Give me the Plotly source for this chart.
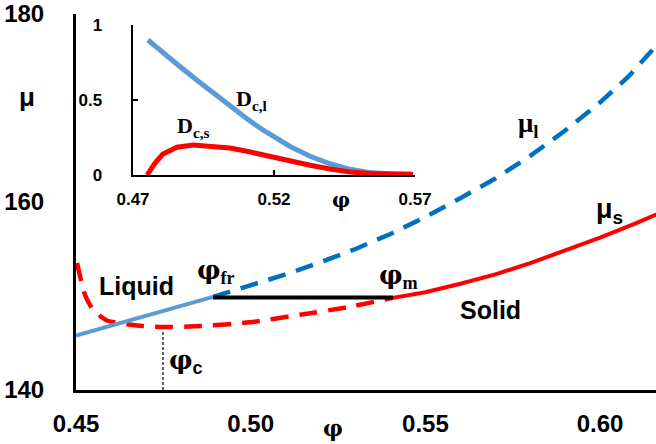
import plotly.graph_objects as go

# ---- main chart data ----
phi_liq = [0.450, 0.470, 0.4892]
mu_liq = [145.8, 147.9, 149.9]

phi_liq_meta = [0.4892, 0.500, 0.510, 0.520, 0.530, 0.540, 0.550, 0.560, 0.570, 0.580, 0.590, 0.600, 0.608, 0.616, 0.620]
mu_liq_meta = [149.9, 151.1, 152.3, 153.6, 155.0, 156.6, 158.4, 160.4, 162.5, 164.9, 167.6, 170.6, 173.3, 176.6, 178.4]

phi_sol_meta = [0.4503, 0.4526, 0.4549, 0.4589, 0.4646, 0.4692, 0.4749, 0.4855, 0.4998, 0.5141, 0.5276, 0.5407]
mu_sol_meta = [153.5, 150.1, 148.5, 147.4, 147.0, 146.8, 146.7, 146.8, 147.2, 148.0, 148.8, 149.8]

phi_sol = [0.5407, 0.550, 0.560, 0.570, 0.580, 0.590, 0.600, 0.610, 0.618, 0.620]
mu_sol = [149.8, 150.4, 151.3, 152.3, 153.5, 154.8, 156.2, 157.7, 159.0, 159.3]

phi_coex = [0.4892, 0.5407]
mu_coex = [149.85, 149.85]

phi_c = 0.4749
mu_c_top = 146.4

x_ticks = [0.45, 0.50, 0.55, 0.60]
y_ticks = [140, 160, 180]

# ---- inset data ----
phi_in_l = [0.4753, 0.4806, 0.4867, 0.4927, 0.4984, 0.5044, 0.5104, 0.5161, 0.5221, 0.5257, 0.5328, 0.5399, 0.5470, 0.5541, 0.5611, 0.5682]
D_cl = [0.90, 0.815, 0.722, 0.632, 0.547, 0.460, 0.375, 0.300, 0.228, 0.190, 0.125, 0.075, 0.038, 0.016, 0.007, 0.005]

phi_in_s = [0.4750, 0.4778, 0.4806, 0.4856, 0.4913, 0.4984, 0.5044, 0.5104, 0.5161, 0.5221, 0.5257, 0.5328, 0.5399, 0.5470, 0.5541, 0.5611, 0.5693]
D_cs = [0.0, 0.08, 0.14, 0.185, 0.20, 0.193, 0.18, 0.158, 0.133, 0.108, 0.093, 0.065, 0.040, 0.020, 0.010, 0.006, 0.005]

in_x_ticks = [0.47, 0.52, 0.57]
in_y_ticks = [0, 0.5, 1]
in_y_labels = ["0", "0.5", "1"]

BLUE_L = "#5B9BD5"
BLUE_D = "#0070C0"
RED = "#FF0000"
SANS = "Liberation Sans"
SERIF = "Liberation Serif"

fig = go.Figure()

fig.add_trace(go.Scatter(x=phi_liq_meta, y=mu_liq_meta, mode="lines",
                         line=dict(color=BLUE_D, width=4.5, dash="18px,11px")))
fig.add_trace(go.Scatter(x=phi_sol_meta, y=mu_sol_meta, mode="lines",
                         line=dict(color=RED, width=4.5, dash="18px,11px", shape="spline", smoothing=0.6)))
fig.add_trace(go.Scatter(x=phi_liq, y=mu_liq, mode="lines",
                         line=dict(color=BLUE_L, width=4)))
fig.add_trace(go.Scatter(x=phi_sol, y=mu_sol, mode="lines",
                         line=dict(color=RED, width=4)))
fig.add_trace(go.Scatter(x=phi_coex, y=mu_coex, mode="lines",
                         line=dict(color="black", width=4)))
fig.add_trace(go.Scatter(x=[phi_c, phi_c], y=[140, mu_c_top], mode="lines",
                         line=dict(color="black", width=1.2, dash="3px,2px")))

fig.add_trace(go.Scatter(x=phi_in_l, y=D_cl, mode="lines", xaxis="x2", yaxis="y2",
                         line=dict(color=BLUE_L, width=5)))
fig.add_trace(go.Scatter(x=phi_in_s, y=D_cs, mode="lines", xaxis="x2", yaxis="y2",
                         line=dict(color=RED, width=5)))

tickfont_main = dict(family=SANS, size=24, color="black", weight="bold")
tickfont_in = dict(family=SANS, size=17, color="black", weight="bold")

fig.update_layout(
    width=656, height=444,
    margin=dict(l=76, r=0, t=14, b=54, autoexpand=False),
    paper_bgcolor="white", plot_bgcolor="white",
    showlegend=False,
    xaxis=dict(range=[0.45, 0.616], tickvals=x_ticks, ticktext=[f"{v:.2f}" for v in x_ticks],
               showgrid=False, zeroline=False, showline=True, linecolor="black", linewidth=3,
               ticks="", tickfont=tickfont_main, ticklabelstandoff=10, automargin=False),
    yaxis=dict(range=[140, 180], tickvals=y_ticks, ticktext=[str(v) for v in y_ticks],
               showgrid=False, zeroline=False, showline=True, linecolor="black", linewidth=3,
               ticks="", tickfont=tickfont_main, ticklabelstandoff=24, automargin=False),
    xaxis2=dict(domain=[0.0983, 0.5845], anchor="y2", range=[0.47, 0.57],
                tickvals=in_x_ticks, ticktext=["0.47", "0.52", "0.57"],
                showgrid=False, zeroline=False, showline=True, linecolor="black", linewidth=2,
                ticks="inside", ticklen=5, tickwidth=2, tickcolor="black",
                tickfont=tickfont_in, ticklabelstandoff=8, automargin=False),
    yaxis2=dict(domain=[0.5718, 0.9707], anchor="x2", range=[0, 1],
                tickvals=in_y_ticks, ticktext=[t + "\u00a0\u00a0" for t in in_y_labels],
                showgrid=False, zeroline=False, showline=True, linecolor="black", linewidth=2,
                ticks="inside", ticklen=5, tickwidth=2, tickcolor="black",
                tickfont=tickfont_in, ticklabelstandoff=16, automargin=False),
)

PHI = '<span style="font-family:DejaVu Serif">φ</span>'

def ann(x, y, text, size, family=SANS, xref="x", yref="y"):
    fig.add_annotation(x=x, y=y, xref=xref, yref=yref, text=text, showarrow=False,
                       font=dict(family=family, size=size, color="black", weight="bold"),
                       xanchor="center", yanchor="middle")

ann(0.4672, 151.1, "Liquid", 25)
ann(0.5685, 148.5, "Solid", 25)
ann(0.4901, 152.6, PHI + "<sub>fr</sub>", 26, SERIF)
ann(0.4815, 143.0, PHI + "<sub>c</sub>", 26, SANS)
ann(0.5422, 152.1, PHI + "<sub>m</sub>", 26, SERIF)
ann(0.5794, 168.2, "μ<sub>l</sub>", 27, SERIF)
ann(0.6028, 159.0, "μ<sub>s</sub>", 27, SANS)
ann(-0.0845, 0.779, "μ", 26, SANS, "paper", "paper")
ann(0.443, -0.101, PHI, 22, SERIF, "paper", "paper")
ann(0.5122, 0.50, "D<sub>c,l</sub>", 22, SERIF, "x2", "y2")
ann(0.4913, 0.32, "D<sub>c,s</sub>", 22, SERIF, "x2", "y2")
ann(0.457, 0.505, PHI, 20, SERIF, "paper", "paper")

fig.write_html("out.html")
